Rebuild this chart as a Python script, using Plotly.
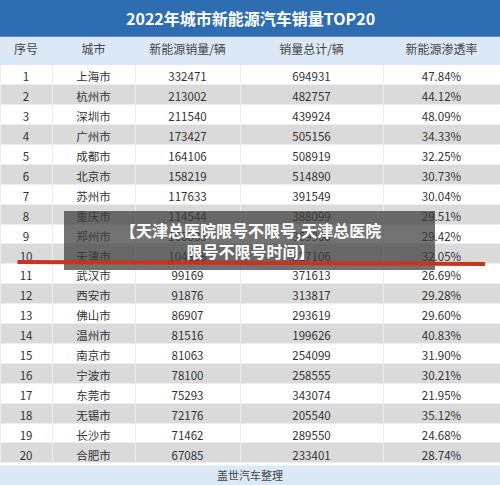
import plotly.graph_objects as go

ranks = list(range(1, 21))
cities = ["上海市", "杭州市", "深圳市", "广州市", "成都市", "北京市", "苏州市", "重庆市", "郑州市", "天津市",
          "武汉市", "西安市", "佛山市", "温州市", "南京市", "宁波市", "东莞市", "无锡市", "长沙市", "合肥市"]
nev_sales = [332471, 213002, 211540, 173427, 164106, 158219, 117633, 114544, 108835, 104838,
             99169, 91876, 86907, 81516, 81063, 78100, 75293, 72176, 71462, 67085]
total_sales = [694931, 482757, 439924, 505156, 508919, 514890, 391549, 388099, 369960, 327106,
               371613, 313817, 293619, 199626, 254099, 258555, 343074, 205540, 289550, 233401]
penetration = ["47.84%", "44.12%", "48.09%", "34.33%", "32.25%", "30.73%", "30.04%", "29.51%", "29.42%", "32.05%",
               "26.69%", "29.28%", "29.60%", "40.83%", "31.90%", "30.21%", "21.95%", "35.12%", "24.68%", "28.74%"]
headers = ["序号", "城市", "新能源销量/辆", "销量总计/辆", "新能源渗透率"]

font = "Noto Sans CJK SC"
row_fill = ["#ffffff" if i % 2 == 0 else "#dadada" for i in range(20)]

fig = go.Figure(go.Table(
    domain=dict(x=[0, 1], y=[0.03, 0.924]),
    columnwidth=[52, 83, 105, 143, 117],
    header=dict(values=headers, fill_color="#dbe8f5", height=28,
                line=dict(color="#dbe8f5", width=1),
                font=dict(family=font, size=12, color="#444444"), align="center"),
    cells=dict(values=[ranks, cities, nev_sales, total_sales, penetration],
               fill_color=[row_fill] * 5, height=19.9,
               line=dict(color="#eeeeee", width=1),
               font=dict(family=font, size=11.5, color="#333333"), align="center"),
))

fig.add_shape(type="rect", xref="paper", yref="paper", x0=0, x1=1, y0=0.924, y1=1,
              fillcolor="#2f6db3", line_width=0, layer="above")
fig.add_annotation(text="<b>2022年城市新能源汽车销量TOP20</b>", xref="paper", yref="paper",
                   x=0.5, y=0.962, yanchor="middle", showarrow=False, font=dict(family=font, size=16, color="white"))
fig.add_shape(type="rect", xref="paper", yref="paper", x0=0, x1=1, y0=0, y1=0.04,
              fillcolor="#dbe8f5", line_width=0, layer="above")
fig.add_annotation(text="盖世汽车整理", xref="paper", yref="paper", x=0.5, y=0.02, yanchor="middle",
                   showarrow=False, font=dict(family=font, size=11, color="#444444"))

fig.add_shape(type="rect", xref="paper", yref="paper", x0=0.128, x1=0.87, y0=1 - 270 / 485, y1=1 - 211 / 485,
              fillcolor="rgba(60,60,60,0.72)", line_width=0)
fig.add_shape(type="line", xref="paper", yref="paper", x0=0.035, x1=0.97, y0=1 - 262 / 485, y1=1 - 264 / 485,
              line=dict(color="#c8341e", width=4))
fig.add_annotation(text="<b>【天津总医院限号不限号,天津总医院<br>限号不限号时间】</b>", xref="paper", yref="paper",
                   x=0.5, y=1 - 240 / 485, yanchor="middle", showarrow=False,
                   font=dict(family=font, size=16, color="white"))

fig.update_layout(width=500, height=485, margin=dict(l=0, r=0, t=0, b=0),
                  paper_bgcolor="white")
fig.write_html("out.html", config={"displayModeBar": False})

# drop the default page margin so the figure sits at the window's corner
with open("out.html", encoding="utf-8") as f:
    html = f.read()
html = html.replace("<body>", '<body style="margin:0;overflow:hidden">', 1)
with open("out.html", "w", encoding="utf-8") as f:
    f.write(html)
